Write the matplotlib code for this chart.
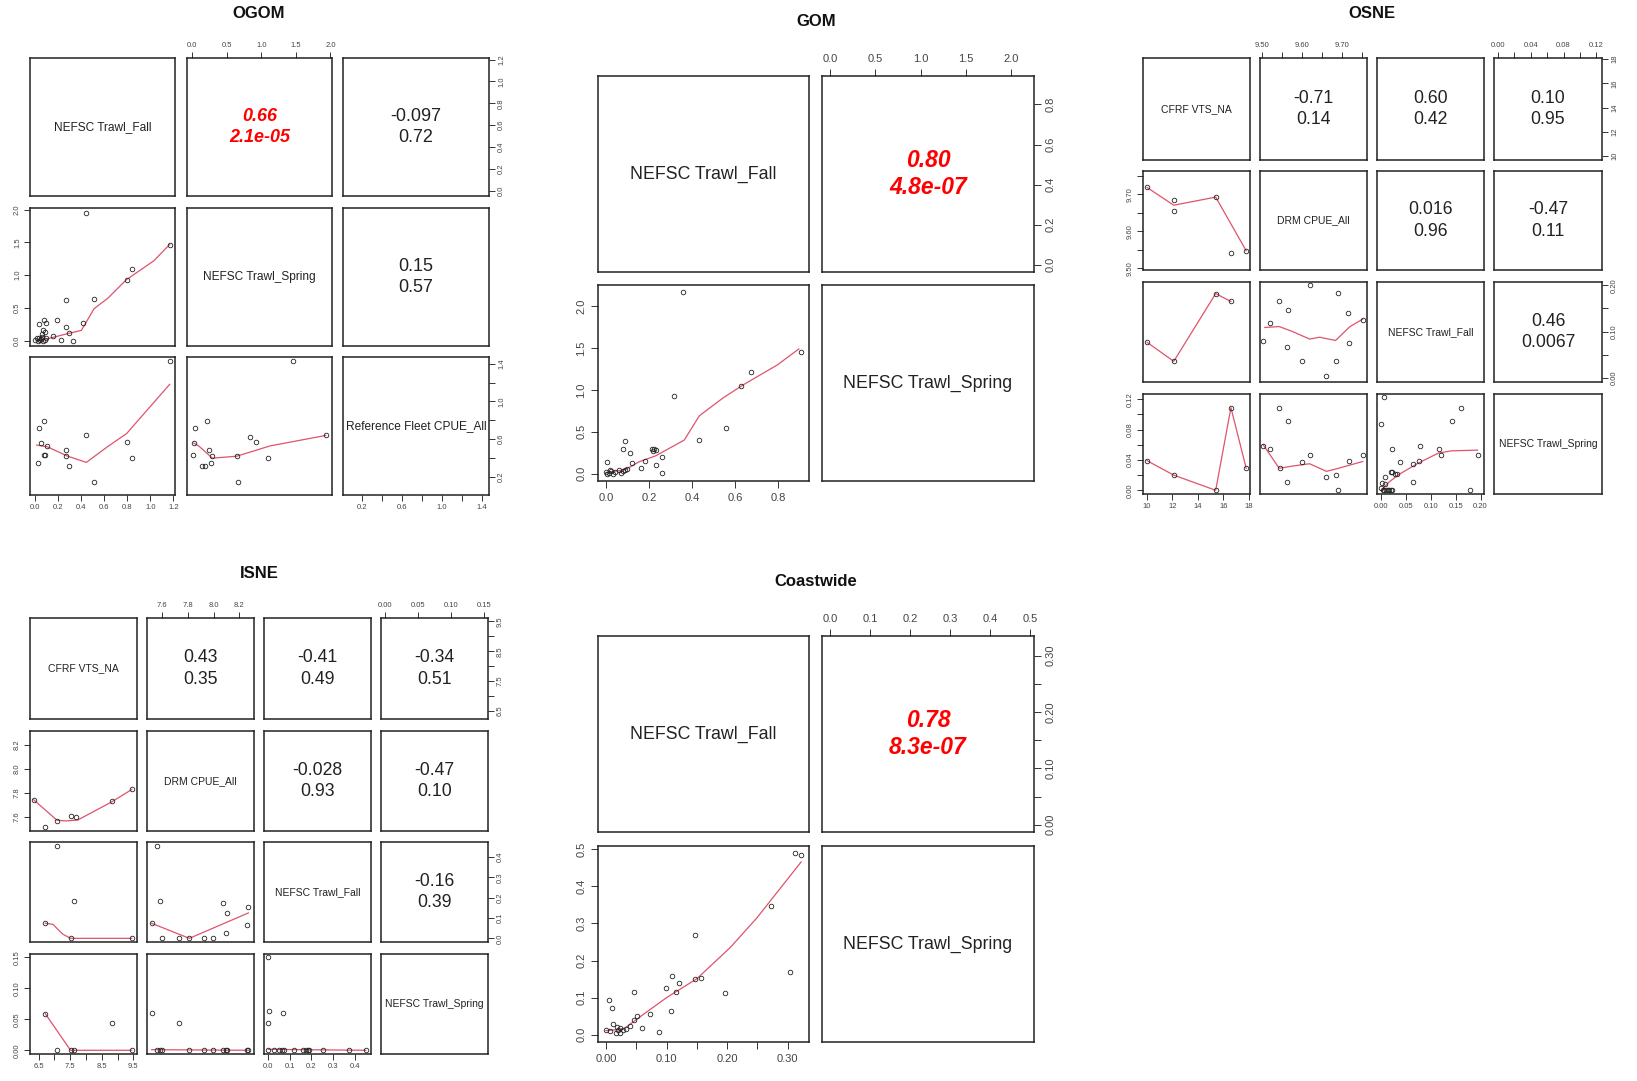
import matplotlib.pyplot as plt

plt.rcParams['font.family'] = ['Liberation Sans', 'DejaVu Sans']

W, H = 1637, 1081
SMOOTH = '#DF536B'   # R's col.smooth = 2
INK = '#222222'

# ---------------- OGOM ----------------
OGOM_LABELS = ['NEFSC Trawl_Fall', 'NEFSC Trawl_Spring', 'Reference Fleet CPUE_All']
OGOM_LIMS = [(-0.047, 1.214), (-0.078, 2.024), (0.01, 1.47)]
OGOM_TICKS = [[0.0, 0.2, 0.4, 0.6, 0.8, 1.0, 1.2], [0.0, 0.5, 1.0, 1.5, 2.0],
              [0.2, 0.4, 0.6, 0.8, 1.0, 1.2, 1.4]]
OGOM_FMT = ['%.1f', '%.1f', '%.1f']
OGOM_COR = {(0, 1): ('0.66', '2.1e-05'), (0, 2): ('-0.097', '0.72'), (1, 2): ('0.15', '0.57')}
OGOM_SIG = [(0, 1)]

# row 2, col 1: x = Fall, y = Spring
OGOM_21_X = [0.443, 1.168, 0.843, 0.794, 0.269, 0.510, 0.417, 0.185, 0.075, 0.089, 0.028, 0.066,
             0.269, 0.292, 0.220, 0.327, 0.156, 0.0, 0.01, 0.02, 0.03, 0.04, 0.05, 0.06, 0.07,
             0.08, 0.09, 0.06, 0.08]
OGOM_21_Y = [1.942, 1.465, 1.091, 0.927, 0.630, 0.645, 0.265, 0.312, 0.322, 0.271, 0.250, 0.173,
             0.204, 0.127, 0.019, 0.004, 0.076, 0.02, 0.04, 0.0, 0.05, 0.01, 0.03, 0.06, 0.0,
             0.02, 0.05, 0.10, 0.13]
OGOM_21_SX = [0.01, 0.10, 0.28, 0.40, 0.51, 0.63, 0.79, 1.03, 1.168]
OGOM_21_SY = [0.01, 0.03, 0.11, 0.16, 0.49, 0.65, 0.93, 1.22, 1.47]

# row 3, col 1: x = Fall, y = Reference Fleet
OGOM_31_X = [1.168, 0.034, 0.075, 0.046, 0.098, 0.075, 0.083, 0.269, 0.269, 0.292, 0.023, 0.443,
             0.510, 0.794, 0.843]
OGOM_31_Y = [1.424, 0.724, 0.791, 0.555, 0.527, 0.432, 0.432, 0.485, 0.425, 0.320, 0.344, 0.640,
             0.147, 0.566, 0.397]
OGOM_31_SX = [0.011, 0.104, 0.278, 0.443, 0.626, 0.794, 1.168]
OGOM_31_SY = [0.538, 0.520, 0.422, 0.355, 0.520, 0.661, 1.181]

# row 3, col 2: x = Spring, y = Reference Fleet
OGOM_32_X = [1.454, 1.933, 0.209, 0.042, 0.018, 0.008, 0.243, 0.291, 0.137, 0.185, 0.267, 0.841,
             0.923, 1.090, 0.640, 0.659]
OGOM_32_Y = [1.424, 0.640, 0.791, 0.724, 0.555, 0.432, 0.481, 0.425, 0.320, 0.320, 0.344, 0.626,
             0.566, 0.397, 0.425, 0.147]
OGOM_32_SX = [0.02, 0.09, 0.29, 0.64, 1.13, 1.933]
OGOM_32_SY = [0.56, 0.53, 0.40, 0.42, 0.53, 0.64]

# ---------------- GOM ----------------
GOM_LABELS = ['NEFSC Trawl_Fall', 'NEFSC Trawl_Spring']
GOM_LIMS = [(-0.036, 0.942), (-0.087, 2.252)]
GOM_TICKS = [[0.0, 0.2, 0.4, 0.6, 0.8], [0.0, 0.5, 1.0, 1.5, 2.0]]
GOM_FMT = ['%.1f', '%.1f']
GOM_COR = {(0, 1): ('0.80', '4.8e-07')}
GOM_SIG = [(0, 1)]

GOM_21_X = [0.358, 0.906, 0.673, 0.625, 0.314, 0.556, 0.431, 0.091, 0.078, 0.111, 0.215, 0.225,
            0.220, 0.234, 0.259, 0.231, 0.259, 0.184, 0.164, 0.122, 0.005, 0.0, 0.005, 0.015,
            0.025, 0.035, 0.045, 0.06, 0.07, 0.08, 0.09, 0.10, 0.02]
GOM_21_Y = [2.165, 1.457, 1.215, 1.042, 0.926, 0.543, 0.402, 0.390, 0.290, 0.245, 0.300, 0.300,
            0.275, 0.286, 0.201, 0.109, 0.008, 0.149, 0.064, 0.125, 0.137, 0.02, 0.0, 0.01,
            0.03, 0.0, 0.02, 0.04, 0.01, 0.03, 0.05, 0.06, 0.05]
GOM_21_SX = [0.0, 0.091, 0.153, 0.231, 0.364, 0.434, 0.544, 0.638, 0.794, 0.895]
GOM_21_SY = [0.012, 0.048, 0.141, 0.213, 0.402, 0.692, 0.905, 1.062, 1.296, 1.489]

# ---------------- OSNE ----------------
OSNE_LABELS = ['CFRF VTS_NA', 'DRM CPUE_All', 'NEFSC Trawl_Fall', 'NEFSC Trawl_Spring']
OSNE_LIMS = [(9.68, 18.1), (9.495, 9.7625), (-0.0085, 0.207), (-0.0049, 0.127)]
OSNE_TICKS = [[10, 12, 14, 16, 18], [9.50, 9.55, 9.60, 9.65, 9.70, 9.75],
              [0.0, 0.05, 0.10, 0.15, 0.20], [0.0, 0.02, 0.04, 0.06, 0.08, 0.10, 0.12]]
OSNE_FMT = ['%d', '%.2f', '%.2f', '%.2f']
OSNE_COR = {(0, 1): ('-0.71', '0.14'), (0, 2): ('0.60', '0.42'), (0, 3): ('0.10', '0.95'),
            (1, 2): ('0.016', '0.96'), (1, 3): ('-0.47', '0.11'), (2, 3): ('0.46', '0.0067')}
OSNE_SIG = []

OSNE_21_X = [10.0, 12.1, 12.1, 15.4, 16.6, 17.8]
OSNE_21_Y = [9.719, 9.685, 9.655, 9.692, 9.542, 9.545]
OSNE_21_SX = [10.0, 12.1, 15.4, 17.8]
OSNE_21_SY = [9.718, 9.670, 9.692, 9.547]

OSNE_31_X = [10.0, 12.1, 15.4, 16.6]
OSNE_31_Y = [0.077, 0.036, 0.182, 0.165]

OSNE_41_X = [10.0, 12.1, 15.4, 16.6, 17.8]
OSNE_41_Y = [0.039, 0.020, 0.0, 0.109, 0.029]

OSNE_32_X = [9.619, 9.690, 9.543, 9.566, 9.714, 9.519, 9.752, 9.503, 9.563, 9.717, 9.601,
             9.684, 9.660]
OSNE_32_Y = [0.201, 0.183, 0.165, 0.147, 0.140, 0.118, 0.125, 0.079, 0.066, 0.076, 0.036,
             0.037, 0.005]
OSNE_32_SX = [9.507, 9.543, 9.577, 9.619, 9.644, 9.684, 9.720, 9.752]
OSNE_32_SY = [0.109, 0.111, 0.100, 0.084, 0.088, 0.081, 0.111, 0.127]

OSNE_42_X = [9.543, 9.566, 9.503, 9.519, 9.546, 9.563, 9.601, 9.619, 9.660, 9.684, 9.690,
             9.717, 9.752]
OSNE_42_Y = [0.109, 0.091, 0.059, 0.054, 0.029, 0.011, 0.037, 0.046, 0.017, 0.020, 0.0,
             0.039, 0.047]
OSNE_42_SX = [9.503, 9.543, 9.577, 9.619, 9.661, 9.684, 9.752]
OSNE_42_SY = [0.060, 0.029, 0.032, 0.035, 0.025, 0.028, 0.038]

OSNE_43_X = [0.005, 0.0, 0.021, 0.079, 0.116, 0.121, 0.143, 0.160, 0.194, 0.178, 0.076, 0.065,
             0.065, 0.038, 0.031, 0.019, 0.022, 0.028, 0.008, 0.001, 0.008, 0.003, 0.006, 0.010,
             0.013, 0.016, 0.019, 0.022, 0.0]
OSNE_43_Y = [0.1236, 0.088, 0.054, 0.059, 0.054, 0.047, 0.091, 0.109, 0.047, 0.0, 0.039, 0.035,
             0.011, 0.037, 0.021, 0.024, 0.024, 0.021, 0.018, 0.010, 0.008, 0.0, 0.0, 0.0,
             0.0, 0.0, 0.0, 0.0, 0.003]
OSNE_43_SX = [0.0, 0.016, 0.036, 0.075, 0.115, 0.141, 0.194]
OSNE_43_SY = [0.0, 0.011, 0.021, 0.036, 0.049, 0.052, 0.053]

# ---------------- ISNE ----------------
ISNE_LABELS = ['CFRF VTS_NA', 'DRM CPUE_All', 'NEFSC Trawl_Fall', 'NEFSC Trawl_Spring']
ISNE_LIMS = [(6.224, 9.617), (7.48, 8.316), (-0.018, 0.474), (-0.006, 0.1555)]
ISNE_TICKS = [[6.5, 7.0, 7.5, 8.0, 8.5, 9.0, 9.5], [7.6, 7.8, 8.0, 8.2],
              [0.0, 0.1, 0.2, 0.3, 0.4], [0.0, 0.05, 0.10, 0.15]]
ISNE_FMT = ['%.1f', '%.1f', '%.1f', '%.2f']
ISNE_COR = {(0, 1): ('0.43', '0.35'), (0, 2): ('-0.41', '0.49'), (0, 3): ('-0.34', '0.51'),
            (1, 2): ('-0.028', '0.93'), (1, 3): ('-0.47', '0.10'), (2, 3): ('-0.16', '0.39')}
ISNE_SIG = []

ISNE_21_X = [6.34, 6.71, 7.08, 7.51, 7.67, 8.82, 9.45]
ISNE_21_Y = [7.741, 7.517, 7.564, 7.606, 7.597, 7.730, 7.827]
ISNE_21_SX = [6.34, 7.08, 7.37, 7.74, 8.82, 9.45]
ISNE_21_SY = [7.741, 7.570, 7.564, 7.572, 7.724, 7.827]

ISNE_31_X = [7.08, 7.63, 6.71, 7.51, 9.45]
ISNE_31_Y = [0.454, 0.186, 0.074, 0.0, 0.0]
ISNE_31_SX = [6.71, 6.95, 7.26, 7.51, 9.45]
ISNE_31_SY = [0.074, 0.069, 0.021, 0.0, 0.0]

ISNE_41_X = [6.71, 7.08, 7.51, 7.63, 8.82, 9.45]
ISNE_41_Y = [0.059, 0.0, 0.0, 0.0, 0.044, 0.0]
ISNE_41_SX = [6.71, 7.51, 9.45]
ISNE_41_SY = [0.059, 0.0, 0.0]

ISNE_32_X = [7.556, 7.584, 7.516, 7.597, 7.730, 7.811, 7.923, 7.999, 8.076, 8.102, 8.097,
             8.272, 8.264]
ISNE_32_Y = [0.454, 0.186, 0.074, 0.0, 0.0, 0.0, 0.0, 0.0, 0.176, 0.123, 0.026, 0.156, 0.064]
ISNE_32_SX = [7.516, 7.811, 8.272]
ISNE_32_SY = [0.074, 0.0, 0.125]

ISNE_42_X = [7.516, 7.730, 7.556, 7.584, 7.597, 7.811, 7.923, 7.999, 8.076, 8.097, 8.102,
             8.264, 8.272]
ISNE_42_Y = [0.060, 0.044, 0.0, 0.0, 0.0, 0.0, 0.0, 0.0, 0.0, 0.0, 0.0, 0.0, 0.0]
ISNE_42_SX = [7.516, 8.272]
ISNE_42_SY = [0.001, 0.0]

ISNE_43_X = [0.002, 0.005, 0.002, 0.071, 0.002, 0.026, 0.051, 0.063, 0.074, 0.118, 0.161,
             0.173, 0.184, 0.189, 0.253, 0.373, 0.450]
ISNE_43_Y = [0.151, 0.064, 0.044, 0.060, 0.0, 0.0, 0.0, 0.0, 0.0, 0.0, 0.0, 0.0, 0.0, 0.0,
             0.0, 0.0, 0.0]
ISNE_43_SX = [0.002, 0.450]
ISNE_43_SY = [0.0015, 0.0]

# ---------------- Coastwide ----------------
CW_LABELS = ['NEFSC Trawl_Fall', 'NEFSC Trawl_Spring']
CW_LIMS = [(-0.013, 0.335), (-0.0196, 0.509)]
CW_TICKS = [[0.0, 0.05, 0.10, 0.15, 0.20, 0.25, 0.30], [0.0, 0.1, 0.2, 0.3, 0.4, 0.5]]
CW_FMT = ['%.2f', '%.1f']
CW_COR = {(0, 1): ('0.78', '8.3e-07')}
CW_SIG = [(0, 1)]

CW_21_X = [0.312, 0.322, 0.272, 0.147, 0.303, 0.197, 0.109, 0.120, 0.099, 0.116, 0.147, 0.157,
           0.107, 0.047, 0.005, 0.010, 0.072, 0.051, 0.047, 0.060, 0.087, 0.040, 0.0, 0.007,
           0.012, 0.017, 0.020, 0.024, 0.029, 0.023, 0.018, 0.033]
CW_21_Y = [0.489, 0.485, 0.348, 0.270, 0.170, 0.112, 0.158, 0.139, 0.125, 0.114, 0.151, 0.153,
           0.065, 0.115, 0.095, 0.073, 0.055, 0.051, 0.039, 0.017, 0.008, 0.024, 0.013, 0.009,
           0.029, 0.006, 0.014, 0.017, 0.012, 0.004, 0.020, 0.016]
CW_21_SX = [0.0, 0.029, 0.051, 0.100, 0.150, 0.205, 0.249, 0.322]
CW_21_SY = [0.011, 0.015, 0.042, 0.100, 0.151, 0.235, 0.315, 0.466]

SMALL = dict(fs_tick=5.5, fs_lab=7.5, fs_cor=12.7, tl=4.0, pad=2.5)
LARGE = dict(fs_tick=8.0, fs_lab=12.8, fs_cor=16.5, tl=5.0, pad=3.5)

REGIONS = [
    dict(title='OGOM', tx=259, ty=13, labels=OGOM_LABELS, lims=OGOM_LIMS, ticks=OGOM_TICKS,
         fmt=OGOM_FMT, cor=OGOM_COR, sig=OGOM_SIG,
         lower={(1, 0): (OGOM_21_X, OGOM_21_Y, OGOM_21_SX, OGOM_21_SY),
                (2, 0): (OGOM_31_X, OGOM_31_Y, OGOM_31_SX, OGOM_31_SY),
                (2, 1): (OGOM_32_X, OGOM_32_Y, OGOM_32_SX, OGOM_32_SY)},
         cols=[(30, 175), (187, 332), (343, 489)], rows=[(58, 196), (208, 346), (357, 495)],
         style=dict(SMALL, fs_lab=8.6, fs_cor=13.0)),
    dict(title='GOM', tx=816, ty=21, labels=GOM_LABELS, lims=GOM_LIMS, ticks=GOM_TICKS,
         fmt=GOM_FMT, cor=GOM_COR, sig=GOM_SIG,
         lower={(1, 0): (GOM_21_X, GOM_21_Y, GOM_21_SX, GOM_21_SY)},
         cols=[(598, 809), (822, 1034)], rows=[(76, 272), (285, 481)], style=LARGE),
    dict(title='OSNE', tx=1372, ty=13, labels=OSNE_LABELS, lims=OSNE_LIMS, ticks=OSNE_TICKS,
         fmt=OSNE_FMT, cor=OSNE_COR, sig=OSNE_SIG,
         lower={(1, 0): (OSNE_21_X, OSNE_21_Y, OSNE_21_SX, OSNE_21_SY),
                (2, 0): (OSNE_31_X, OSNE_31_Y, OSNE_31_X, OSNE_31_Y),
                (3, 0): (OSNE_41_X, OSNE_41_Y, OSNE_41_X, OSNE_41_Y),
                (2, 1): (OSNE_32_X, OSNE_32_Y, OSNE_32_SX, OSNE_32_SY),
                (3, 1): (OSNE_42_X, OSNE_42_Y, OSNE_42_SX, OSNE_42_SY),
                (3, 2): (OSNE_43_X, OSNE_43_Y, OSNE_43_SX, OSNE_43_SY)},
         cols=[(1143, 1250), (1260, 1367), (1377, 1484), (1494, 1602)],
         rows=[(58, 160), (171, 270), (282, 382), (394, 494)], style=SMALL),
    dict(title='ISNE', tx=259, ty=573, labels=ISNE_LABELS, lims=ISNE_LIMS, ticks=ISNE_TICKS,
         fmt=ISNE_FMT, cor=ISNE_COR, sig=ISNE_SIG,
         lower={(1, 0): (ISNE_21_X, ISNE_21_Y, ISNE_21_SX, ISNE_21_SY),
                (2, 0): (ISNE_31_X, ISNE_31_Y, ISNE_31_SX, ISNE_31_SY),
                (3, 0): (ISNE_41_X, ISNE_41_Y, ISNE_41_SX, ISNE_41_SY),
                (2, 1): (ISNE_32_X, ISNE_32_Y, ISNE_32_SX, ISNE_32_SY),
                (3, 1): (ISNE_42_X, ISNE_42_Y, ISNE_42_SX, ISNE_42_SY),
                (3, 2): (ISNE_43_X, ISNE_43_Y, ISNE_43_SX, ISNE_43_SY)},
         cols=[(30, 137), (147, 254), (264, 371), (381, 488)],
         rows=[(618, 719), (731, 831), (842, 942), (954, 1054)], style=SMALL),
    dict(title='Coastwide', tx=816, ty=581, labels=CW_LABELS, lims=CW_LIMS, ticks=CW_TICKS,
         fmt=CW_FMT, cor=CW_COR, sig=CW_SIG,
         lower={(1, 0): (CW_21_X, CW_21_Y, CW_21_SX, CW_21_SY)},
         cols=[(598, 809), (822, 1034)], rows=[(636, 832), (846, 1042)], style=LARGE),
]


def thin_labels(ticks, px_per_unit, fmt, fs):
    """Drop labels that would collide, the way R's axis() does."""
    out, last = [], None
    for t in ticks:
        s = fmt % t
        need = (3.3 * len(s) + 10.2) * fs / 5.5
        p = t * px_per_unit
        if last is None or p - last >= need:
            out.append(s)
            last = p
        else:
            out.append('')
    return out


def add_axis(ax, side, reg, k, size_px):
    st = reg['style']
    lo, hi = reg['lims'][k]
    ticks = reg['ticks'][k]
    labels = thin_labels(ticks, size_px / (hi - lo), reg['fmt'][k], st['fs_tick'])
    if side in ('top', 'bottom'):
        ax.set_xticks(ticks, labels)
        ax.xaxis.set_ticks_position(side)
        ax.tick_params(axis='x', direction='out', length=st['tl'], width=0.7, color='#333',
                       labelsize=st['fs_tick'], labelcolor='#444', pad=st['pad'])
    else:
        ax.set_yticks(ticks, labels)
        ax.yaxis.set_ticks_position(side)
        ax.tick_params(axis='y', direction='out', length=st['tl'], width=0.7, color='#333',
                       labelsize=st['fs_tick'], labelcolor='#444', pad=st['pad'],
                       labelrotation=90)
        for lbl in ax.get_yticklabels():
            lbl.set_va('center')


def draw_region(reg):
    st = reg['style']
    n = len(reg['labels'])
    fig.text(reg['tx'] / W, 1 - reg['ty'] / H, reg['title'], ha='center', va='center',
             fontsize=12, fontweight='bold', color='#111')
    for i in range(n):
        for j in range(n):
            x0, x1 = reg['cols'][j]
            y0, y1 = reg['rows'][i]
            ax = fig.add_axes([x0 / W, 1 - y1 / H, (x1 - x0) / W, (y1 - y0) / H])
            ax.set_xlim(reg['lims'][j])
            ax.set_ylim(reg['lims'][i])
            ax.set_xticks([])
            ax.set_yticks([])
            for sp in ax.spines.values():
                sp.set_linewidth(1.1)
                sp.set_color(INK)

            if i == 0 and j % 2 == 1:
                add_axis(ax, 'top', reg, j, x1 - x0)
            if i == n - 1 and j % 2 == 0:
                add_axis(ax, 'bottom', reg, j, x1 - x0)
            if j == 0 and i % 2 == 1:
                add_axis(ax, 'left', reg, i, y1 - y0)
            if j == n - 1 and i % 2 == 0:
                add_axis(ax, 'right', reg, i, y1 - y0)

            if i == j:
                ax.text(0.5, 0.5, reg['labels'][i], transform=ax.transAxes, ha='center',
                        va='center', fontsize=st['fs_lab'], color=INK, clip_on=False)
            elif i < j:
                r, p = reg['cor'][(i, j)]
                half = st['fs_cor'] * 100 / 72 * 0.6 / (y1 - y0)
                if (i, j) in reg['sig']:
                    kw = dict(color='red', fontweight='bold', fontstyle='italic')
                else:
                    kw = dict(color=INK)
                ax.text(0.5, 0.5 + half, r, transform=ax.transAxes, ha='center', va='center',
                        fontsize=st['fs_cor'], **kw)
                ax.text(0.5, 0.5 - half, p, transform=ax.transAxes, ha='center', va='center',
                        fontsize=st['fs_cor'], **kw)
            else:
                px, py, sx, sy = reg['lower'][(i, j)]
                ax.plot(sx, sy, color=SMOOTH, lw=0.9)
                ax.plot(px, py, 'o', ms=3.3, mfc='none', mec=INK, mew=0.6)


fig = plt.figure(figsize=(W / 100, H / 100), dpi=100)
for region in REGIONS:
    draw_region(region)

fig.savefig('out.png', dpi=100, facecolor='white')
